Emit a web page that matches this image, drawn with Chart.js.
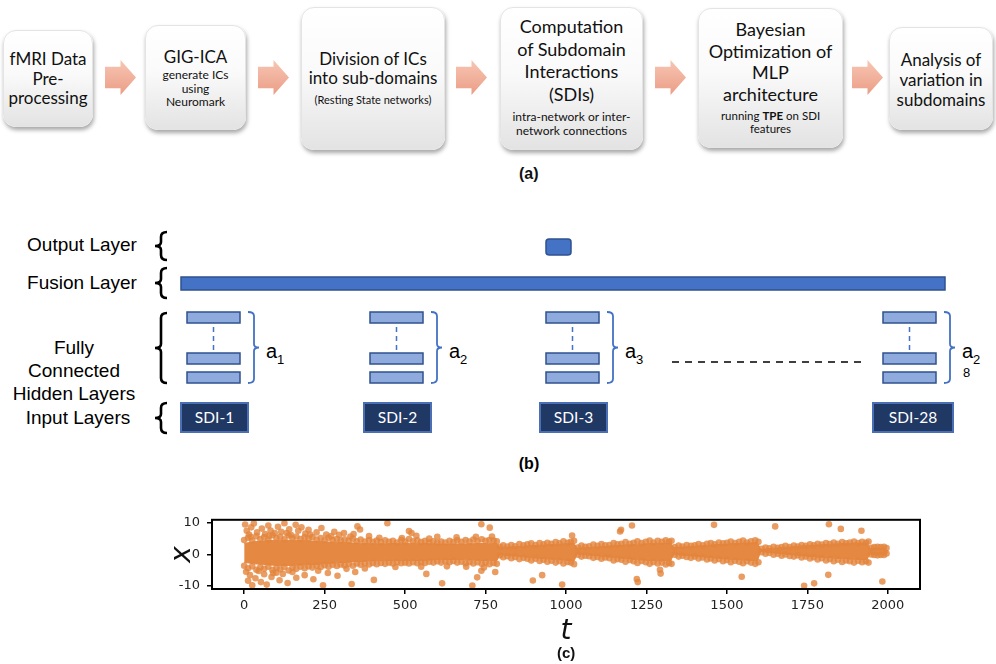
<!DOCTYPE html>
<html>
<head>
<meta charset="utf-8">
<script src="https://cdn.jsdelivr.net/npm/chart.js@4/dist/chart.umd.min.js"></script>
<style>
  html, body { margin: 0; padding: 0; background: #fff; }
  #page { position: relative; width: 996px; height: 664px; overflow: hidden; background: #fff; }
  .box {
    position: absolute; box-sizing: border-box; border-radius: 13px;
    background: linear-gradient(#ffffff 0%, #fafafa 45%, #e3e3e3 100%);
    box-shadow: 1px 3px 4px rgba(0,0,0,0.35); border: 1px solid #e4e4e4;
    text-align: center; font-family: Lato, "Open Sans", sans-serif; color: #111;
  }
  .big { font-size: 17px; }
  .arr {
    position: absolute; top: 60px; width: 31px; height: 35px;
    background: linear-gradient(#f7c6b4, #eb9d85);
    clip-path: polygon(0 19%, 50% 19%, 50% 0, 100% 50%, 50% 100%, 50% 81%, 0 81%);
  }
  .lbl { position: absolute; font-family: "Liberation Sans", Arial, sans-serif; font-weight: bold; font-size: 16px; color: #111; }
  #chartBox { position: absolute; left: 140px; top: 505px; width: 800px; height: 145px; }
</style>
</head>
<body>
<div id="page">

  <!-- (a) pipeline -->
  <div class="box" style="left:3px;top:30px;width:90px;height:97px;padding-top:18px">
    <div class="big" style="line-height:19.5px">fMRI Data<br>Pre-<br>processing</div>
  </div>
  <div class="arr" style="left:105px"></div>
  <div class="box" style="left:145px;top:25px;width:101px;height:105px;padding-top:21px">
    <div class="big" style="line-height:19px">GIG-ICA</div>
    <div style="font-size:12px;line-height:13.5px;margin-top:2px">generate ICs<br>using<br>Neuromark</div>
  </div>
  <div class="arr" style="left:258px"></div>
  <div class="box" style="left:301px;top:7px;width:144px;height:143px;padding-top:41px">
    <div class="big" style="line-height:19px">Division of ICs<br>into sub-domains</div>
    <div style="font-size:11px;line-height:14px;margin-top:6px">(Resting State networks)</div>
  </div>
  <div class="arr" style="left:456px"></div>
  <div class="box" style="left:500px;top:7px;width:143px;height:143px;padding-top:7px">
    <div style="font-size:18px;line-height:22.5px">Computation<br>of Subdomain<br>Interactions<br>(SDIs)</div>
    <div style="font-size:12px;line-height:14px;margin-top:5px">intra-network or inter-<br>network connections</div>
  </div>
  <div class="arr" style="left:655px"></div>
  <div class="box" style="left:698px;top:8px;width:145px;height:140px;padding-top:10px">
    <div style="font-size:18px;line-height:21.7px">Bayesian<br>Optimization of<br>MLP<br>architecture</div>
    <div style="font-size:11.5px;line-height:13px;margin-top:3px">running <b>TPE</b> on SDI<br>features</div>
  </div>
  <div class="arr" style="left:852px"></div>
  <div class="box" style="left:889px;top:27px;width:104px;height:103px;padding-top:22px">
    <div class="big" style="line-height:20px">Analysis of<br>variation in<br>subdomains</div>
  </div>
  <div class="lbl" style="left:519px;top:165px">(a)</div>

  <!-- (b) network diagram -->
  <svg width="996" height="664" style="position:absolute;left:0;top:0">
    <g font-family="Liberation Sans, Arial, sans-serif" font-size="19" fill="#000" text-anchor="middle">
      <text x="82" y="251">Output Layer</text>
      <text x="82" y="289">Fusion Layer</text>
      <text x="74" y="354">Fully</text>
      <text x="74" y="377">Connected</text>
      <text x="74" y="400">Hidden Layers</text>
      <text x="78" y="424">Input Layers</text>
    </g>
    <g fill="none" stroke="#000" stroke-width="2.6">
      <path d="M167,232 Q161,232 161,237 L161,242 Q161,246 155,246 Q161,246 161,250 L161,255 Q161,260 167,260"/>
      <path d="M167,268 Q161,268 161,273 L161,279 Q161,283 155,283 Q161,283 161,287 L161,293 Q161,298 167,298"/>
      <path d="M167,313 Q161,313 161,318 L161,344 Q161,348 155,348 Q161,348 161,352 L161,378 Q161,383 167,383"/>
      <path d="M167,403 Q161,403 161,408 L161,414 Q161,418 155,418 Q161,418 161,422 L161,428 Q161,433 167,433"/>
    </g>
    <rect x="546" y="239" width="25" height="16" rx="3" fill="#4472C4" stroke="#2F528F" stroke-width="1.5"/>
    <rect x="181" y="277" width="764" height="13" fill="#4472C4" stroke="#2F528F" stroke-width="1.5"/>
    <g fill="#8FAADC" stroke="#2F528F" stroke-width="1.5">
      <rect x="187" y="312" width="53" height="11"/><rect x="187" y="353" width="53" height="11"/><rect x="187" y="372" width="53" height="11"/>
      <rect x="370" y="312" width="53" height="11"/><rect x="370" y="353" width="53" height="11"/><rect x="370" y="372" width="53" height="11"/>
      <rect x="546" y="312" width="53" height="11"/><rect x="546" y="353" width="53" height="11"/><rect x="546" y="372" width="53" height="11"/>
      <rect x="883" y="312" width="53" height="11"/><rect x="883" y="353" width="53" height="11"/><rect x="883" y="372" width="53" height="11"/>
    </g>
    <g stroke="#4472C4" stroke-width="1.5" stroke-dasharray="5 4">
      <line x1="213.5" y1="327" x2="213.5" y2="350"/>
      <line x1="396.5" y1="327" x2="396.5" y2="350"/>
      <line x1="572.5" y1="327" x2="572.5" y2="350"/>
      <line x1="909.5" y1="327" x2="909.5" y2="350"/>
    </g>
    <g fill="none" stroke="#4472C4" stroke-width="1.8">
      <path d="M248,312 Q254,312 254,316 L254,344 Q254,347.5 259,347.5 Q254,347.5 254,351 L254,379 Q254,383 248,383"/>
      <path d="M431,312 Q437,312 437,316 L437,344 Q437,347.5 442,347.5 Q437,347.5 437,351 L437,379 Q437,383 431,383"/>
      <path d="M607,312 Q613,312 613,316 L613,344 Q613,347.5 618,347.5 Q613,347.5 613,351 L613,379 Q613,383 607,383"/>
      <path d="M944,312 Q950,312 950,316 L950,344 Q950,347.5 955,347.5 Q950,347.5 950,351 L950,379 Q950,383 944,383"/>
    </g>
    <g font-family="Liberation Sans, Arial, sans-serif" fill="#000">
      <text x="266" y="358" font-size="20">a</text><text x="277" y="364" font-size="13">1</text>
      <text x="449" y="358" font-size="20">a</text><text x="460" y="364" font-size="13">2</text>
      <text x="625" y="358" font-size="20">a</text><text x="636" y="364" font-size="13">3</text>
      <text x="962" y="358" font-size="20">a</text><text x="973" y="364" font-size="13">2</text>
      <text x="963" y="377" font-size="13">8</text>
    </g>
    <line x1="672" y1="362" x2="862" y2="362" stroke="#000" stroke-width="1.5" stroke-dasharray="7 6"/>
    <g fill="#1F3864" stroke="#4A6FB5" stroke-width="2">
      <rect x="181" y="403" width="67" height="29"/>
      <rect x="364" y="403" width="67" height="29"/>
      <rect x="540" y="403" width="67" height="29"/>
      <rect x="873" y="403" width="80" height="29"/>
    </g>
    <g font-family="Lato, sans-serif" font-size="15.5" fill="#fff" text-anchor="middle">
      <text x="214.5" y="423">SDI-1</text>
      <text x="397.5" y="423">SDI-2</text>
      <text x="573.5" y="423">SDI-3</text>
      <text x="913" y="423">SDI-28</text>
    </g>
    <text x="529" y="469" font-family="Liberation Sans, Arial, sans-serif" font-size="16" font-weight="bold" text-anchor="middle">(b)</text>
  </svg>

  <!-- (c) scatter -->
  <div id="chartBox"><canvas id="c" width="800" height="145"></canvas></div>
  <div class="lbl" style="left:557px;top:644px;font-size:15px">(c)</div>
</div>

<script>
// axis ticks
const xTicks = [0, 250, 500, 750, 1000, 1250, 1500, 1750, 2000];
const yTicks = [-10, 0, 10];

// dense core of the series: upper and lower edge
const bandT  = [0, 30, 60, 100, 150, 200, 250, 300, 350, 400, 450, 500, 550, 600, 650, 700, 760, 785,
                795, 850, 900, 950, 1000, 1025, 1035, 1100, 1150, 1200, 1250, 1300, 1325,
                1335, 1400, 1450, 1500, 1550, 1595, 1605, 1650, 1700, 1750, 1800, 1850, 1900, 1935,
                1945, 1970, 1990, 2000];
const bandHi = [3.5, 4, 4.3, 4.5, 4.5, 4.3, 4, 3.8, 3.6, 3.4, 3.4, 3.6, 3.5, 3.3, 3.3, 3.4, 3.5, 3.5,
                2.2, 2.5, 2.8, 3.1, 3.4, 3.5, 2.0, 2.4, 2.8, 3.1, 3.4, 3.6, 3.6,
                2.2, 2.6, 3, 3.3, 3.6, 3.7, 1.6, 2, 2.4, 2.8, 3.1, 3.4, 3.6, 3.6,
                1.9, 2, 1.9, 1.2];
const bandLo = [-2.5, -3, -3.2, -3.5, -3.5, -3.3, -3, -2.6, -2.3, -2.1, -2, -2, -1.9, -1.7, -1.6, -1.8, -2, -2,
                -0.1, -0.6, -1.1, -1.5, -1.9, -2.1, 0.1, -0.5, -1, -1.5, -1.9, -2.1, -2.1,
                0, -0.6, -1, -1.5, -1.8, -2, 0.9, 0.4, -0.1, -0.6, -1, -1.3, -1.6, -1.6,
                0.1, -0.1, 0, 0.6];

// points along the edges of the core
const edgeT = [0, 12, 25, 38, 50, 62, 75, 88, 100, 112, 125, 138, 150, 162, 175, 188, 200,
  212, 225, 238, 250, 262, 275, 288, 300, 312, 325, 338, 350, 362, 375, 388, 400,
  412, 425, 438, 450, 462, 475, 488, 500, 512, 525, 538, 550, 562, 575, 588, 600,
  612, 625, 638, 650, 662, 675, 688, 700, 712, 725, 738, 750, 762, 775, 785,
  795, 805, 818, 830, 842, 855, 868, 880, 892, 905, 918, 930, 942, 955, 968, 980, 992, 1005, 1015, 1025,
  1037, 1048, 1060, 1072, 1085, 1098, 1110, 1122, 1135, 1148, 1160, 1172, 1185, 1198, 1210, 1222, 1235, 1248, 1260, 1272, 1285, 1298, 1310, 1320, 1328,
  1338, 1350, 1362, 1375, 1388, 1400, 1412, 1425, 1438, 1450, 1462, 1475, 1488, 1500, 1512, 1525, 1538, 1550, 1562, 1575, 1588, 1598,
  1608, 1620, 1632, 1645, 1658, 1670, 1682, 1695, 1708, 1720, 1732, 1745, 1758, 1770, 1782, 1795, 1808, 1820, 1832, 1845, 1858, 1870, 1882, 1895, 1908, 1920, 1932, 1940,
  1948, 1958, 1968, 1978, 1988, 1996];
const edgeTop = [4.6, 5.3, 4.4, 5.8, 4.9, 5.5, 4.7, 6.1, 5.2, 5.6, 4.8, 6.0, 5.1, 5.7, 4.9, 5.4, 5.0,
  5.5, 4.7, 5.2, 4.5, 5.3, 4.6, 4.9, 4.4, 4.8, 4.3, 5.0, 4.2, 4.7, 4.1, 4.6, 4.0,
  4.4, 3.9, 4.5, 4.0, 4.3, 3.8, 4.6, 4.1, 4.9, 4.2, 4.5, 3.9, 4.3, 3.8, 4.2, 3.7,
  4.1, 3.8, 4.3, 3.9, 4.5, 4.0, 4.6, 4.1, 4.7, 4.2, 4.8, 4.3, 4.6, 4.4, 4.2,
  2.4, 2.9, 2.5, 3.0, 2.6, 3.3, 2.9, 3.2, 3.5, 3.0, 3.6, 3.2, 3.7, 3.4, 3.9, 3.5, 4.2, 3.7, 4.0, 4.3,
  2.2, 2.8, 2.4, 2.6, 3.1, 2.7, 3.3, 2.9, 3.0, 3.6, 3.2, 3.4, 3.9, 3.4, 3.7, 4.2, 3.6, 4.0, 4.4, 3.8, 4.3, 4.0, 4.5, 4.0, 4.3,
  2.3, 2.8, 2.5, 3.0, 2.7, 2.9, 3.3, 2.9, 3.4, 3.6, 3.2, 3.8, 3.5, 3.7, 4.1, 3.6, 4.0, 4.4, 3.8, 4.2, 4.5, 4.0,
  1.8, 2.2, 1.9, 2.4, 2.1, 2.3, 2.7, 2.3, 2.8, 2.5, 3.0, 2.7, 3.2, 2.9, 3.4, 3.1, 3.6, 3.3, 3.8, 3.4, 3.9, 3.5, 3.8, 4.1, 3.6, 4.0, 3.7, 4.1,
  2.1, 2.3, 2.4, 2.3, 2.4, 2.0];
const edgeBottom = [-3.6, -4.4, -3.8, -4.9, -4.1, -4.6, -3.9, -5.0, -4.3, -4.7, -4.0, -5.1, -4.2, -4.6, -3.9, -4.4, -3.8,
  -4.2, -3.6, -4.0, -3.4, -3.9, -3.3, -3.7, -3.2, -3.5, -3.0, -3.6, -2.9, -3.3, -2.8, -3.2, -2.7,
  -3.1, -2.7, -3.0, -2.6, -2.9, -2.5, -2.8, -2.6, -2.9, -2.5, -2.8, -2.4, -2.7, -2.3, -2.6, -2.2,
  -2.6, -2.2, -2.5, -2.1, -2.6, -2.3, -2.8, -2.4, -2.9, -2.5, -3.0, -2.6, -3.1, -2.7, -3.0,
  -0.3, -0.9, -0.6, -1.2, -0.8, -1.5, -1.1, -1.4, -1.9, -1.4, -2.1, -1.7, -2.3, -2.0, -2.6, -2.1, -2.9, -2.4, -2.6, -3.1,
  -0.1, -0.7, -0.4, -0.6, -1.1, -0.8, -1.4, -1.0, -1.2, -1.9, -1.5, -1.7, -2.3, -1.8, -2.2, -2.7, -2.1, -2.5, -3.0, -2.4, -2.9, -2.6, -3.2, -2.7, -3.0,
  -0.1, -0.7, -0.4, -0.8, -1.1, -0.7, -1.3, -1.0, -1.6, -1.3, -1.9, -1.5, -2.2, -1.8, -2.5, -2.0, -2.3, -2.8, -2.2, -2.6, -3.0, -2.5,
  0.7, 0.2, 0.5, -0.1, 0.2, -0.4, 0.0, -0.5, -0.7, -0.3, -1.0, -0.7, -1.3, -0.9, -1.6, -1.2, -1.9, -1.5, -2.2, -1.7, -2.4, -1.9, -2.2, -2.6, -2.0, -2.5, -2.2, -2.6,
  0.0, -0.2, -0.3, -0.2, -0.2, 0.3];

// scattered points away from the core (early spread and outliers)
const outT = [3, 8, 15, 22, 30, 40, 55, 65, 75, 82, 95, 105, 115, 125, 132, 140, 160, 168, 178, 190,
  200, 225, 240, 255, 280, 295, 310, 340, 352, 360, 388, 445, 512, 520, 535, 600,
  6, 12, 18, 25, 35, 52, 62, 70, 85, 100, 110, 120, 135, 162, 188, 215, 245, 260, 290, 334, 345, 403, 566, 615,
  20, 45, 78, 90, 145, 150, 205, 230, 270, 318, 330, 375, 420, 470, 490, 550, 575, 630, 660, 690, 720, 745, 770, 780,
  709, 724, 737, 737, 763, 897, 926, 988, 1019, 1168, 1171, 1205, 1220, 1223, 1292, 1294, 1460, 1546, 1650, 1740,
  1771, 1815, 1817, 1854, 1918, 1983];
const outX = [9.5, 7.5, 6.3, 8.6, 9.8, 7.0, 8.2, 6.5, 9.2, 7.6, 6.8, 8.8, 7.2, 9.9, 6.8, 8.0, 9.4, 7.5, 8.6, 6.6,
  7.8, 7.0, 8.4, 6.3, 7.2, 6.2, 6.8, 6.5, 8.9, 7.9, 5.8, 9.9, 7.4, 6.8, 5.9, 5.6,
  -5.5, -8.4, -6.6, -9.8, -7.6, -8.8, -6.3, -9.6, -7.2, -5.8, -8.2, -6.2, -9.1, -7.4, -6.6, -7.9, -9.8, -5.9, -6.8, -9.4, -5.6, -8.1, -6.2, -9.2,
  5.6, -5.3, 5.9, -5.9, 6.2, -5.6, 6.3, -5.2, 5.8, -4.6, 5.7, -4.5, 5.3, -4.0, 5.2, -3.9, 5.0, -3.8, 5.4, -3.9, 5.6, -4.2, 5.7, -5.6,
  -9.9, -7.3, 9.6, -5.2, 8.5, -8.3, -6.6, -9.6, 6.0, 7.3, 7.8, 9.2, -7.8, -8.8, -4.9, -6.1, 9.4, -7.1, 8.9, -10,
  -9.2, -6.5, 9.6, 8.1, 7.5, -8.6];

const core = 'rgb(229,136,66)';
const dot = 'rgba(228,132,60,0.8)';

const points = edgeT.map((t, i) => ({x: t, y: edgeTop[i]}))
  .concat(edgeT.map((t, i) => ({x: t, y: edgeBottom[i]})))
  .concat(outT.map((t, i) => ({x: t, y: outX[i]})));

const frame = {
  id: 'frame',
  afterDraw(chart) {
    const {ctx, chartArea: a} = chart;
    ctx.save();
    ctx.strokeStyle = '#000';
    ctx.lineWidth = 2;
    ctx.strokeRect(a.left, a.top, a.right - a.left, a.bottom - a.top);
    ctx.restore();
  }
};

const tickFont = {family: 'DejaVu Sans', size: 13};
const titleFont = {family: 'DejaVu Sans', size: 28, style: 'italic'};

new Chart(document.getElementById('c'), {
  type: 'scatter',
  data: {
    datasets: [
      {
        data: points,
        backgroundColor: dot,
        borderWidth: 0,
        pointRadius: 3.3,
      },
      {
        data: bandT.map((t, i) => ({x: t, y: bandHi[i]})),
        showLine: true,
        fill: '+1',
        backgroundColor: core,
        borderColor: core,
        borderWidth: 1,
        pointRadius: 0,
      },
      {
        data: bandT.map((t, i) => ({x: t, y: bandLo[i]})),
        showLine: true,
        fill: false,
        borderColor: core,
        borderWidth: 1,
        pointRadius: 0,
      },
    ]
  },
  options: {
    responsive: false,
    animation: false,
    devicePixelRatio: 1,
    layout: {padding: {left: 0, right: 20, top: 14, bottom: 0}},
    plugins: {legend: {display: false}, tooltip: {enabled: false}},
    scales: {
      x: {
        type: 'linear',
        min: -100,
        max: 2100,
        afterBuildTicks: axis => { axis.ticks = xTicks.map(v => ({value: v})); },
        afterFit: axis => { axis.height = 61; },
        ticks: {font: tickFont, color: '#222', padding: 4, maxRotation: 0, callback: v => String(v)},
        grid: {drawOnChartArea: false, drawTicks: true, tickLength: 5, color: '#000', lineWidth: 1.5},
        border: {display: true, color: '#000', width: 2},
        title: {display: true, text: 't', font: titleFont, color: '#111', padding: {top: 0, bottom: 1}},
      },
      y: {
        min: -11,
        max: 11,
        afterBuildTicks: axis => { axis.ticks = yTicks.map(v => ({value: v})); },
        afterFit: axis => { axis.width = 72; },
        ticks: {font: tickFont, color: '#222', padding: 7, callback: v => String(v)},
        grid: {drawOnChartArea: false, drawTicks: true, tickLength: 5, color: '#000', lineWidth: 1.5},
        border: {display: true, color: '#000', width: 2},
        title: {display: true, text: 'x', font: titleFont, color: '#111', padding: {top: 26, bottom: 0}},
      }
    }
  },
  plugins: [frame]
});
</script>
</body>
</html>
